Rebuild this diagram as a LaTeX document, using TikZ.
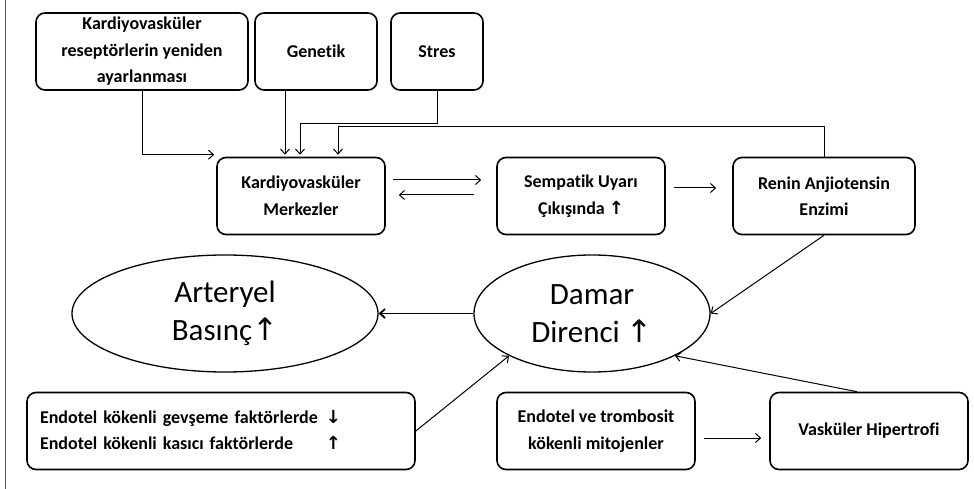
\documentclass[tikz,border=0pt]{standalone}
\usepackage{fontspec}
\usepackage{tikz}
\setmainfont{Carlito}[Ligatures=NoCommon]
\newfontfamily\arrowfont{DejaVu Sans}
\usetikzlibrary{shapes.geometric}
\usetikzlibrary{arrows.meta}
\tikzset{box/.style = {draw, line width=1.6pt, rounded corners=9pt, minimum height=77pt,
                       align=center, inner sep=2pt,
                       font=\fontsize{18}{26.5}\selectfont\bfseries}}
\tikzset{oval/.style = {draw, line width=1.3pt, ellipse, inner sep=0, minimum height=117pt,
                        align=center, font=\fontsize{31}{38}\selectfont}}
\tikzset{arr/.style = {-{Straight Barb[length=5pt, width=9pt]}, line width=1pt}}
\newcommand{\up}{{\arrowfont\bfseries ↑}}
\newcommand{\down}{{\arrowfont\bfseries ↓}}
\newcommand{\thinup}{{\arrowfont ↑}}

\begin{document}
\begin{tikzpicture}[x=1pt, y=-1pt]
          \useasboundingbox (0,0) rectangle (974,489);
          \draw [line width=0.8pt, gray!70!black] (5,0) -- (5,489);
          % top row
          \node [box, minimum width=212pt] (recept) at (142, 51.5) {Kardiyovasküler\\reseptörlerin yeniden\\ayarlanması};
          \node [box, minimum width=122pt] (genetik) at (316, 51.5) {Genetik};
          \node [box, minimum width=92pt] (stres) at (437, 51.5) {Stres};
          % middle row
          \node [box, minimum width=168pt] (merkez) at (301, 196) {Kardiyovasküler\\Merkezler};
          \node [box, minimum width=168pt] (sempatik) at (581, 196) {Sempatik Uyarı\\Çıkışında \up};
          \node [box, minimum width=182pt] (renin) at (824, 196) {Renin Anjiotensin\\Enzimi};
          % ellipses
          \node [oval, minimum width=306pt] (basinc) at (225, 313.5) {Arteryel\\Basınç\thinup};
          \node [oval, minimum width=236pt] (direnc) at (592, 313.5) {Damar\\Direnci \thinup};
          % bottom row
          \node [box, minimum width=388pt, text width=362pt, align=left] (gevseme) at (221, 431)
                {\begin{tabular}{@{}l@{\hspace{8pt}}c@{}}
                 Endotel kökenli gevşeme faktörlerde & \down\\
                 Endotel kökenli kasıcı faktörlerde & \up
                 \end{tabular}};
          \node [box, minimum width=198pt] (mitojen) at (596, 431) {Endotel ve trombosit\\kökenli mitojenler};
          \node [box, minimum width=198pt] (hipertrofi) at (869, 431) {Vasküler Hipertrofi};
          % feedback lines into the centres
          \coordinate (stresbend) at (300, 124);
          \coordinate (reninbend) at (338, 127);
          \draw [arr] (recept.south) |- ([xshift=-2pt, yshift=2pt]merkez.north west);
          \draw [arr] ([xshift=-31pt]genetik.south) -- ([xshift=-31pt, yshift=2pt]genetik.south |- merkez.north);
          \draw [arr] (stres.south) |- (stresbend) -- ([yshift=2pt]stresbend |- merkez.north);
          \draw [arr] (renin.north) |- (reninbend) -- ([yshift=2pt]reninbend |- merkez.north);
          % middle row arrows
          \draw [arr, shorten <=7pt, shorten >=15pt] ([yshift=16pt]merkez.east) -- ([yshift=16pt]sempatik.west);
          \draw [arr, shorten <=22pt, shorten >=13pt] ([yshift=1pt]sempatik.west) -- ([yshift=1pt]merkez.east);
          \draw [arr, shorten <=8pt, shorten >=16pt] ([yshift=8pt]sempatik.east) -- ([yshift=8pt]renin.west);
          % into the ellipses
          \draw [arr] (renin.south) -- (direnc.east);
          \draw [arr, line width=1.8pt] (direnc.west) -- (basinc.east);
          \draw [arr] (gevseme.east) -- (direnc.207);
          \draw [arr] ([xshift=-12pt]hipertrofi.north) -- (direnc.333);
          \draw [arr, shorten <=8pt, shorten >=8pt] ([yshift=-7pt]mitojen.east) -- ([yshift=-7pt]hipertrofi.west);
        \end{tikzpicture}
\end{document}
